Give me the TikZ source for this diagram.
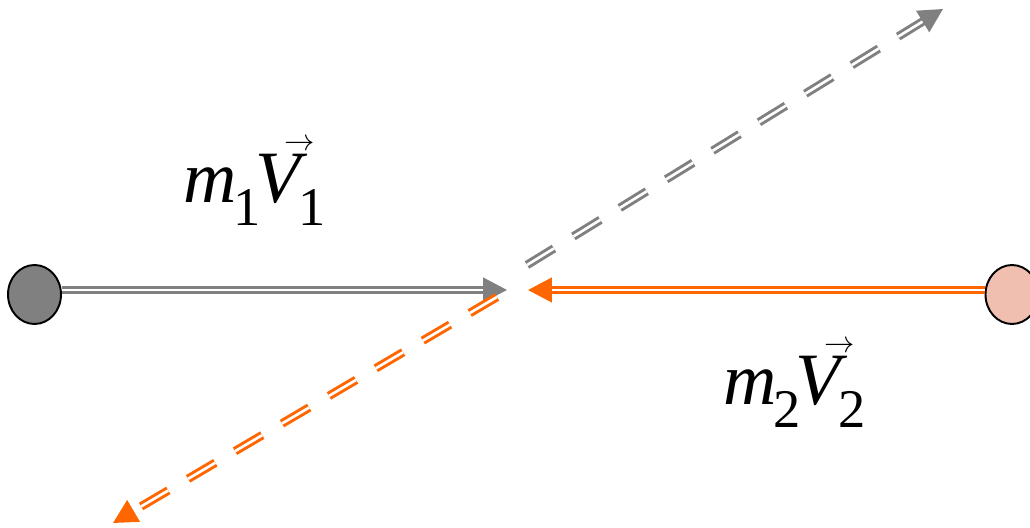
\documentclass[tikz,border=0pt]{standalone}
\usepackage{fontspec}
\setmainfont{Liberation Serif}
\usetikzlibrary{arrows.meta,shapes.geometric}

\definecolor{ballgray}{RGB}{128,128,128}
\definecolor{ballpink}{RGB}{240,191,176}
\definecolor{vorange}{RGB}{255,102,0}

\newcommand{\subfont}{\fontsize{31}{31}\selectfont}
\newcommand{\vecarrow}{\makebox[0pt][l]{\hspace{17pt}\raisebox{30pt}{\fontsize{19}{19}\selectfont$\rightarrow$}}}
\newcommand{\momentum}[1]{\fontsize{42}{46}\selectfont
  \textit{m}\kern-0.04em\raisebox{-0.3em}{\subfont #1}\kern-0.08em
  \vecarrow\textit{V}\kern-0.12em\raisebox{-0.3em}{\subfont #1}}

\begin{document}
\begin{tikzpicture}[>={Triangle[length=13.6pt,width=14pt]},
    ball/.style={ellipse, draw=black, line width=1.1pt, inner sep=0pt,
      minimum width=1.06cm, minimum height=1.18cm},
    vline/.style={->, line width=1.4pt, double=white, double distance=1.5pt},
    after/.style={vline, line width=1.7pt, dash pattern=on 18pt off 13pt}]
    \useasboundingbox (0,0) rectangle (20.6,10.56);

    \node[ball, fill=ballgray] (lball) at (0.69,4.67) {};
    \node[ball, fill=ballpink] (rball) at (20.24,4.67) {};

    \coordinate (gtip) at (10.14,4.76);
    \coordinate (otip) at (10.56,4.76);

    % before the collision
    \draw[vline, ballgray] (lball.east |- gtip) -- (gtip);
    \draw[vline, vorange] (rball.west |- otip) -- (otip);

    % after the collision
    \coordinate (gstart) at (10.54,5.26);
    \coordinate (gend) at (18.86,10.38);
    \coordinate (ostart) at (9.94,4.62);
    \coordinate (oend) at (2.26,0.10);
    \draw[after, ballgray] (gstart) -- (gend);
    \draw[after, vorange] (ostart) -- (oend);

    \node[anchor=base west, inner sep=0pt] (mv1) at (3.66,6.5) {\momentum{1}};
    \node[anchor=base west, inner sep=0pt] (mv2) at (14.46,2.46) {\momentum{2}};
\end{tikzpicture}
\end{document}
